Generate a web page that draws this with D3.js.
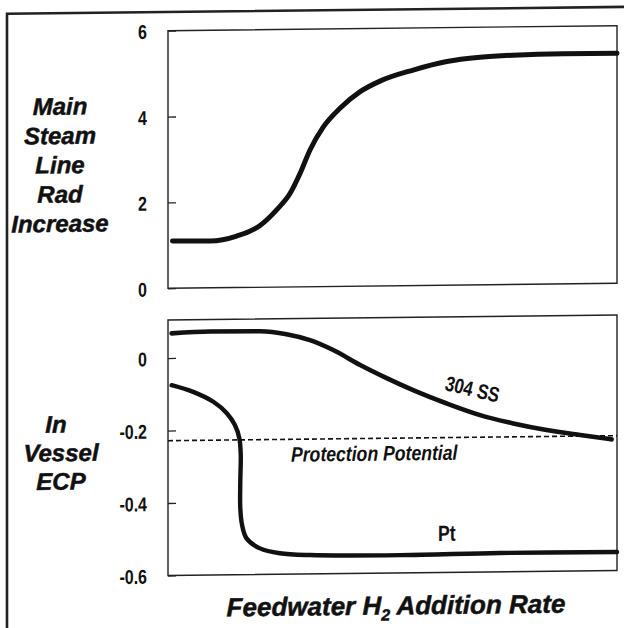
<!DOCTYPE html>
<html>
<head>
<meta charset="utf-8">
<script src="https://cdn.jsdelivr.net/npm/d3@7"></script>
<style>
  html, body { margin: 0; padding: 0; background: #fff; }
  svg { display: block; }
  text { font-family: "Liberation Sans", Arial, Helvetica, sans-serif; fill: #111; }
</style>
</head>
<body>
<svg id="chart" width="624" height="628"></svg>
<script>
// ---- data ----
// Feedwater H2 addition rate (relative units, 0-100)
const radRate     = [1, 9.4, 15.3, 20.5, 24.2, 27.2, 29.4, 31.6, 34.6, 38.3, 42.8, 47.2, 54.6, 62.1, 69.5, 76.8, 88, 100];
const radIncrease = [1.10, 1.09, 1.20, 1.44, 1.80, 2.18, 2.64, 3.18, 3.72, 4.15, 4.53, 4.77, 5.02, 5.21, 5.30, 5.34, 5.36, 5.36];

const ssRate = [0.8, 9.4, 20.5, 26.4, 31.6, 36.8, 42.8, 48.7, 54.6, 62.1, 69.5, 76.9, 84.3, 91.8, 98.8];
const ssECP  = [0.068, 0.072, 0.071, 0.062, 0.045, 0.017, -0.025, -0.062, -0.096, -0.134, -0.167, -0.191, -0.210, -0.225, -0.238];

const ptRate = [0.8, 5.6, 10.1, 13.1, 14.9, 15.9, 16.2, 16.1, 16.1, 16.5, 17.5, 20.5, 24.9, 31.6, 51.7, 73.9, 100];
const ptECP  = [-0.075, -0.094, -0.122, -0.154, -0.187, -0.224, -0.270, -0.343, -0.417, -0.463, -0.500, -0.528, -0.542, -0.548, -0.551, -0.548, -0.549];

const protectionPotential = -0.228;

const radTicks = [0, 2, 4, 6];
const ecpTicks = [0, -0.2, -0.4, -0.6];

const radTitleLines = ["Main", "Steam", "Line", "Rad", "Increase"];
const ecpTitleLines = ["In", "Vessel", "ECP"];
const xTitle = { main: "Feedwater H", sub: "2", rest: " Addition Rate" };
const ssLabel = "304 SS";
const ptLabel = "Pt";
const ppLabel = "Protection Potential";

// ---- layout ----
const svg = d3.select("#chart");
svg.append("rect").attr("width", 624).attr("height", 628).attr("fill", "#fff");

const plotLeft = 168, plotRight = 617;
const skewDeg = -0.64;
const root = svg.append("g")
  .attr("transform", `translate(0,${(Math.tan(-skewDeg * Math.PI / 180) * plotLeft).toFixed(2)}) skewY(${skewDeg})`);

// outer frame (left and top)
root.append("path")
  .attr("d", "M7,640V12H630")
  .attr("fill", "none").attr("stroke", "#222").attr("stroke-width", 2.6);

const x = d3.scaleLinear().domain([0, 100]).range([plotLeft, plotRight]);
const yRad = d3.scaleLinear().domain([0, 6]).range([288.3, 30.7]);
const yEcp = d3.scaleLinear().domain([-0.6, 0.105]).range([575.5, 320]);

function frame(yScale) {
  const [y0, y1] = yScale.range();
  root.append("rect")
    .attr("x", plotLeft).attr("y", y1)
    .attr("width", plotRight - plotLeft).attr("height", y0 - y1)
    .attr("fill", "none").attr("stroke", "#222").attr("stroke-width", 1.4);
}

function yAxis(yScale, ticks) {
  const g = root.append("g")
    .attr("transform", `translate(${plotLeft},0)`)
    .call(d3.axisLeft(yScale).tickValues(ticks).tickSizeInner(-8).tickSizeOuter(0)
      .tickFormat(d => d === 0 ? "0" : String(d)));
  g.select(".domain").remove();
  g.selectAll(".tick line").attr("stroke", "#222").attr("stroke-width", 1.3);
  g.selectAll(".tick text")
    .attr("x", null).attr("dy", null)
    .attr("transform", "translate(-21,7.5) scale(0.8,1)")
    .attr("text-anchor", "end")
    .style("font-size", "20px")
    .style("font-weight", "bold")
    .attr("fill", "#1a1a1a");
}

function condensedText(parent, str, tx, ty, sx, size, opts = {}) {
  return parent.append("text")
    .attr("transform", `translate(${tx},${ty})${opts.rotate ? ` rotate(${opts.rotate})` : ""} scale(${sx},1)`)
    .attr("text-anchor", opts.anchor || "start")
    .style("font-size", size + "px")
    .style("font-style", opts.italic ? "italic" : "normal")
    .style("font-weight", opts.bold ? "bold" : "normal")
    .text(str);
}

// ---- top panel: main steam line radiation ----
frame(yRad);
yAxis(yRad, radTicks);

const radLine = d3.line().x(d => x(d[0])).y(d => yRad(d[1])).curve(d3.curveMonotoneX);
root.append("path")
  .datum(d3.zip(radRate, radIncrease))
  .attr("d", radLine)
  .attr("fill", "none").attr("stroke", "#111").attr("stroke-width", 5)
  .attr("stroke-linecap", "round");

radTitleLines.forEach((t, i) => {
  root.append("text")
    .attr("x", 60).attr("y", 113.5 + i * 29.3)
    .attr("text-anchor", "middle")
    .style("font-size", "24px").style("font-weight", "bold").style("font-style", "italic")
    .style("stroke", "#111").style("stroke-width", 0.5)
    .text(t);
});

// ---- bottom panel: in-vessel ECP ----
frame(yEcp);
yAxis(yEcp, ecpTicks);

root.append("line")
  .attr("x1", x(0)).attr("x2", x(100))
  .attr("y1", yEcp(protectionPotential)).attr("y2", yEcp(protectionPotential))
  .attr("stroke", "#111").attr("stroke-width", 1.6).attr("stroke-dasharray", "5,3");

const ecpMono = d3.line().x(d => x(d[0])).y(d => yEcp(d[1])).curve(d3.curveMonotoneX);
const ecpFree = d3.line().x(d => x(d[0])).y(d => yEcp(d[1])).curve(d3.curveCatmullRom.alpha(0.5));

root.append("path")
  .datum(d3.zip(ssRate, ssECP))
  .attr("d", ecpMono)
  .attr("fill", "none").attr("stroke", "#111").attr("stroke-width", 4.6)
  .attr("stroke-linecap", "round");

root.append("path")
  .datum(d3.zip(ptRate, ptECP))
  .attr("d", ecpFree)
  .attr("fill", "none").attr("stroke", "#111").attr("stroke-width", 4.4)
  .attr("stroke-linecap", "round");

ecpTitleLines.forEach((t, i) => {
  root.append("text")
    .attr("x", i === 0 ? 56 : 61).attr("y", 431.5 + i * 28.5)
    .attr("text-anchor", "middle")
    .style("font-size", "24px").style("font-weight", "bold").style("font-style", "italic")
    .style("stroke", "#111").style("stroke-width", 0.5)
    .text(t);
});

// curve labels
condensedText(root, ssLabel, 444, 393, 0.8, 21, { rotate: 14, bold: true });
condensedText(root, ptLabel, 438, 544, 0.8, 22, { bold: true });
condensedText(root, ppLabel, 291, 463, 0.84, 21, { italic: true, bold: true });

// x-axis title with subscript
const xt = root.append("text")
  .attr("x", 396).attr("y", 617)
  .attr("text-anchor", "middle")
  .style("font-size", "26px").style("font-weight", "bold").style("font-style", "italic")
  .style("stroke", "#111").style("stroke-width", 0.5);
xt.append("tspan").text(xTitle.main);
xt.append("tspan").attr("dy", 6).style("font-size", "16px").text(xTitle.sub);
xt.append("tspan").attr("dy", -6).text(xTitle.rest);
</script>
</body>
</html>
